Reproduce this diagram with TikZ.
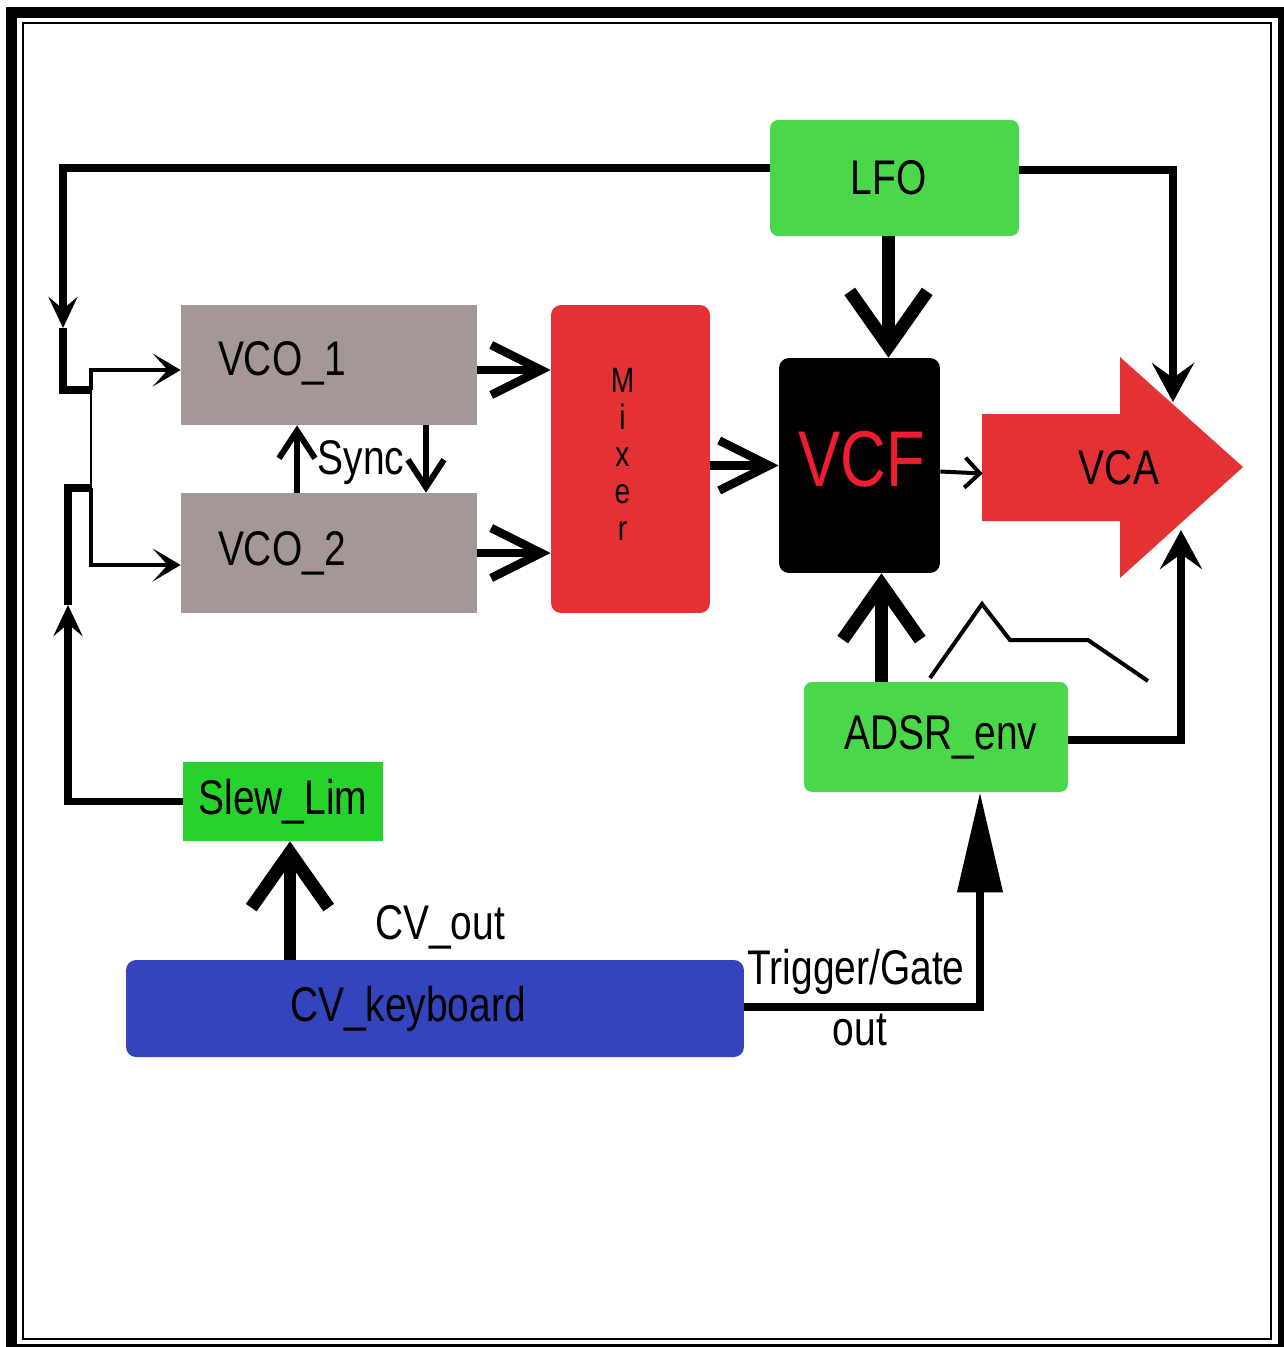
\documentclass[tikz,border=0pt]{standalone}
\usepackage{fontspec}
\setmainfont{Liberation Sans}[FakeStretch=0.8]
\usetikzlibrary{arrows.meta,positioning}
\definecolor{lfogreen}{HTML}{4BD74A}
\definecolor{slewgreen}{HTML}{28D22C}
\definecolor{vcogray}{HTML}{A39897}
\definecolor{mixred}{HTML}{E33134}
\definecolor{kbdblue}{HTML}{3344BC}
\definecolor{vcftext}{HTML}{F01C30}
\newcommand{\lblfont}{\fontsize{27.7}{30}\selectfont}

\begin{document}
\begin{tikzpicture}[x=0.02cm,y=-0.02cm,
    blk/.style={inner sep=0,font=\lblfont,draw=none},
    wire/.style={line width=0.15cm},
    heavy/.style={line width=0.26cm,-{Straight Barb[length=1.1cm,width=1.55cm]}},
    midbarb/.style={line width=0.17cm,-{Straight Barb[length=1cm,width=1cm]}},
    sidetip/.style={-{Stealth[length=0.78cm,width=0.84cm,inset=0.3cm]}}]
  \useasboundingbox (0,0) rectangle (1284,1347);
  % frame
  \fill[black] (6,7) rectangle (1284,1347);
  \fill[white] (17,18) rectangle (1278,1344);
  \draw[line width=0.03cm] (23,23) rectangle (1271,1339);

  % blocks
  \node[blk,fill=lfogreen,rounded corners=0.16cm,minimum width=4.98cm,minimum height=2.32cm] (lfo) at (894.5,178) {LFO\hspace*{0.24cm}};
  \node[blk,fill=vcogray,minimum width=5.92cm,minimum height=2.4cm,text width=4.44cm,align=left] (vcoA) at (329,365) {\raisebox{0.28cm}{VCO\_1}};
  \node[blk,fill=vcogray,minimum width=5.92cm,minimum height=2.4cm,text width=4.44cm,align=left] (vcoB) at (329,553) {VCO\_2};
  \node[blk,fill=mixred,rounded corners=0.2cm,minimum width=3.18cm,minimum height=6.16cm,font=\fontsize{20}{21}\selectfont] (mixer) at (630.5,459) {\begin{tabular}{@{}c@{}}M\\i\\x\\e\\r\end{tabular}\hspace*{0.32cm}};
  \node[blk,fill=black,text=vcftext,rounded corners=0.2cm,minimum width=3.22cm,minimum height=4.3cm,font=\fontsize{45}{48}\selectfont] (vcf) at (859.5,465.5) {\raisebox{0.26cm}{\hspace*{0.1cm}VCF}};
  \fill[mixred] (982,414) -- (1120,414) -- (1120,357) -- (1243,467) -- (1120,578) -- (1120,521) -- (982,521) -- cycle;
  \node[blk,minimum width=5.44cm] (vca) at (1119,467.5) {VCA};
  \node[blk,fill=lfogreen,rounded corners=0.16cm,minimum width=5.28cm,minimum height=2.2cm] (adsr) at (936,737) {\hspace*{0.2cm}ADSR\_env};
  \node[blk,fill=slewgreen,minimum width=4cm,minimum height=1.58cm] (slew) at (283,801.5) {Slew\_Lim};
  \node[blk,fill=kbdblue,rounded corners=0.2cm,minimum width=12.36cm,minimum height=1.94cm,text width=5.8cm,align=left] (kbd) at (435,1008.5) {\raisebox{-0.08cm}{CV\_keyboard}};

  % labels
  \node[blk] (sync) at (361,463) {Sync};
  \node[blk] (cvout) at (440,927) {CV\_out};
  \node[blk] (trig) at (856,972) {Trigger/Gate};
  \node[blk] (trigout) at (860,1030) {out};

  \coordinate (lfoturn) at (63,328);
  \coordinate (jA) at (91,390);
  \coordinate (jB) at (91,488);
  \coordinate (slewturn) at (68,605);
  \coordinate (vcatop) at (1173,402);
  \coordinate (vcabot) at (1181,530);

  % pitch CV into the oscillators
  \draw[wire,-{Stealth[length=0.62cm,width=0.58cm,inset=0.24cm]}] ([yshift=0.2cm]lfo.west) -| (lfoturn);
  \draw[wire] (lfoturn) |- (jA);
  \draw[wire,-{Stealth[length=0.62cm,width=0.58cm,inset=0.24cm]}] (slew.west) -| (slewturn);
  \draw[wire] (slewturn) |- (jB);
  \draw[line width=0.04cm] (jA) -- (jB);
  \draw[line width=0.08cm,-{Stealth[length=0.56cm,width=0.66cm,inset=0.3cm]}] (jA) |- ([yshift=-0.1cm]vcoA.west);
  \draw[line width=0.08cm,-{Stealth[length=0.56cm,width=0.66cm,inset=0.3cm]}] (jB) |- ([yshift=-0.24cm]vcoB.west);

  % sync
  \draw[line width=0.12cm,-{Straight Barb[length=0.55cm,width=0.72cm]}] ([xshift=-0.64cm]vcoB.north) -- ([xshift=-0.64cm]vcoA.south);
  \draw[line width=0.12cm,-{Straight Barb[length=0.55cm,width=0.72cm]}] ([xshift=1.94cm]vcoA.south) -- ([xshift=1.94cm]vcoB.north);

  % audio path
  \draw[midbarb] ([yshift=-0.1cm]vcoA.east) -- ([yshift=-0.1cm]vcoA.east -| mixer.west);
  \draw[midbarb] (vcoB.east) -- (vcoB.east -| mixer.west);
  \draw[midbarb] (vcf.west -| mixer.east) -- (vcf.west);
  \draw[line width=0.08cm,-{Straight Barb[length=0.3cm,width=0.6cm]}] ([yshift=-0.12cm]vcf.east) -- ([yshift=-0.12cm]vca.west);

  % modulation
  \draw[heavy] ([xshift=-0.12cm]lfo.south) -- ([xshift=-0.12cm]lfo.south |- vcf.north);
  \draw[heavy] ([xshift=0.44cm]vcf.south |- adsr.north) -- ([xshift=0.44cm]vcf.south);
  \draw[heavy] ([xshift=0.14cm]slew.south |- kbd.north) -- ([xshift=0.14cm]slew.south);
  \draw[wire,sidetip] ([yshift=0.16cm]lfo.east) -| (vcatop);
  \draw[wire,sidetip] ([yshift=-0.06cm]adsr.east) -| (vcabot);
  \draw[wire,-{Triangle[length=2cm,width=0.88cm]}] ([yshift=0.03cm]kbd.east) -| ([xshift=0.88cm]adsr.south);

  % envelope sketch
  \draw[line width=0.08cm] (930,678) -- (982,604) -- (1010,640) -- (1088,640) -- (1148,681);
\end{tikzpicture}
\end{document}
